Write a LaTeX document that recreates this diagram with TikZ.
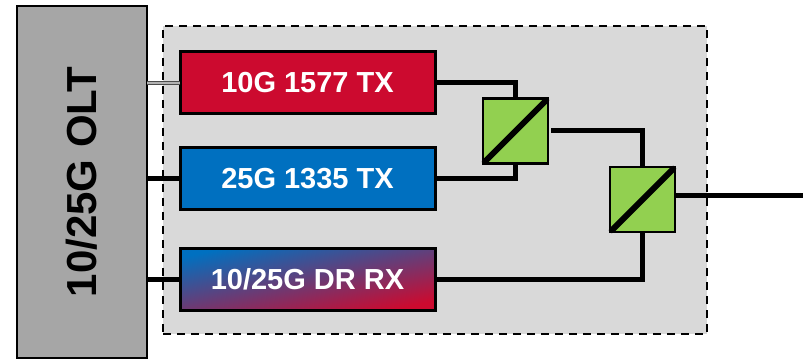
\documentclass[tikz,border=0pt]{standalone}
\usepackage{fontspec}
\setmainfont{Liberation Sans}
\definecolor{txred}{HTML}{CC0A2F}
\definecolor{txblue}{HTML}{0070C0}
\definecolor{wdmgreen}{HTML}{92D050}
\definecolor{panelgrey}{HTML}{D9D9D9}
\definecolor{oltgrey}{HTML}{A6A6A6}
\begin{document}
\begin{tikzpicture}[
        x=1pt, y=1pt,
        every node/.style={outer sep=0pt, inner sep=0pt},
        panel/.style={draw, fill=panelgrey, line width=2pt, dash pattern=on 8pt off 6pt, minimum width=544pt, minimum height=308pt},
        olt/.style={draw, fill=oltgrey, line width=2pt, minimum width=351pt, minimum height=130pt, font=\bfseries\fontsize{42}{42}\selectfont},
        module/.style={draw, line width=3pt, minimum width=255pt, minimum height=62pt, text=white, font=\bfseries\fontsize{29}{29}\selectfont},
        wdm/.style={draw, fill=wdmgreen, line width=2.5pt, minimum width=65pt, minimum height=65pt},
        fiber/.style={line width=5pt},
        slash/.style={line width=6pt, line cap=round, shorten <=2.5pt, shorten >=2.5pt},
    ]
    \useasboundingbox (0,0) rectangle (808,359);
    \node[panel](panel) at (435,179){};
    \node[olt, rotate=90](olt) at (82,177){10/25G OLT};
    \node[module, fill=txred](tx10) at (307.5,276){10G 1577 TX};
    \node[module, fill=txblue](tx25) at (307.5,180){25G 1335 TX};
    \node[module, top color=txblue, bottom color=txred, shading angle=12](rx) at (307.5,80){10/25G DR RX};
    \node[wdm](wdm1) at (515.5,228){};
    \node[wdm](wdm2) at (642.5,159.5){};
    \coordinate (out) at (803,163);
    % thin link and the two fat ones to the OLT
    \draw[line width=1.2pt, black!70, double=gray!60, double distance=1.6pt] (tx10.west) -- (tx10.west -| olt.south);
    \draw[fiber] (olt.south |- tx25.west) -- (tx25.west);
    \draw[fiber] (olt.south |- rx.west) -- (rx.west);
    \draw[fiber] (tx10.east) -- (tx10.east -| wdm1.north) -- (wdm1.north);
    \draw[fiber] (tx25.east) -- (tx25.east -| wdm1.south) -- (wdm1.south);
    \draw[fiber, shorten <=3pt] (wdm1.east) -- (wdm1.east -| wdm2.north) -- (wdm2.north);
    \draw[fiber] (rx.east) -- (rx.east -| wdm2.south) -- (wdm2.south);
    \draw[fiber] (wdm2.east |- out) -- (out);
    \draw[slash] (wdm1.south west) -- (wdm1.north east);
    \draw[slash] (wdm2.south west) -- (wdm2.north east);
\end{tikzpicture}
\end{document}
